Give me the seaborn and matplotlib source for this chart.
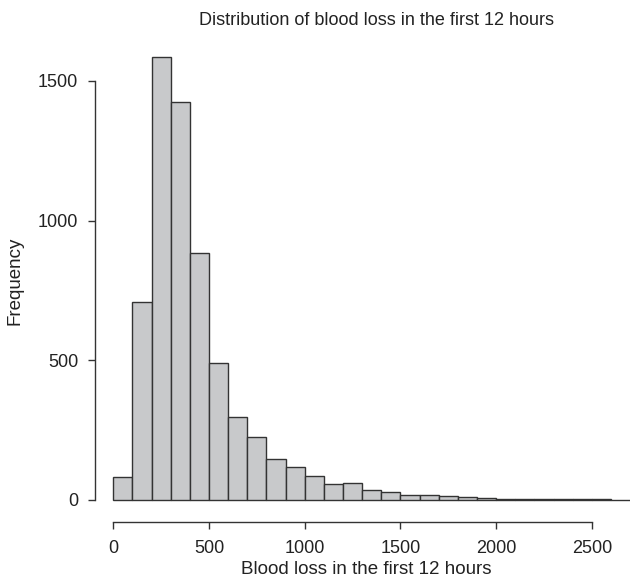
import numpy as np
import pandas as pd
import matplotlib.pyplot as plt
import seaborn as sns

# bin edges (width 100) and counts
bin_left = np.arange(0, 2700, 100)
counts = [83, 708, 1585, 1423, 883, 490, 298, 225, 145, 117, 85, 57, 60,
          35, 28, 18, 18, 14, 11, 7, 4, 3, 3, 2, 2, 2, 1]

df = pd.DataFrame({"loss": bin_left + 50, "n": counts})

sns.set_style("white")
plt.rcParams["font.family"] = ["Liberation Sans", "DejaVu Sans"]

fig = plt.figure(figsize=(6.32, 5.83), dpi=100)
ax = fig.add_axes([0.161, 0.128, 0.836, 0.781])

sns.histplot(data=df, x="loss", weights="n", binwidth=100, binrange=(0, 2700), ax=ax,
             color="#c8c9cb", edgecolor="#333333", linewidth=1.0, alpha=1)

ax.set_xlim(-60, 2700)
ax.set_ylim(-30, 1600)

for s in ["top", "right"]:
    ax.spines[s].set_visible(False)
ax.spines["left"].set_position(("outward", 5))
ax.spines["bottom"].set_position(("outward", 10))
ax.spines["left"].set_bounds(0, 1500)
ax.spines["bottom"].set_bounds(0, 2500)
for s in ["left", "bottom"]:
    ax.spines[s].set_color("#333333")
    ax.spines[s].set_linewidth(1.0)

ax.set_xticks([0, 500, 1000, 1500, 2000, 2500])
ax.set_yticks([0, 500, 1000, 1500])
ax.tick_params(axis="both", bottom=True, left=True, direction="out", length=5,
               width=1.0, color="#333333", labelsize=13, labelcolor="#222222")
ax.tick_params(axis="x", pad=8)
ax.tick_params(axis="y", pad=7)

ax.set_xlabel("Blood loss in the first 12 hours", fontsize=13.5, color="#222222", labelpad=3)
ax.set_ylabel("Frequency", fontsize=13.5, color="#222222", labelpad=10)
ax.set_title("Distribution of blood loss in the first 12 hours", fontsize=13,
             color="#222222", pad=20, x=0.52)

fig.savefig("out.png", dpi=100)
